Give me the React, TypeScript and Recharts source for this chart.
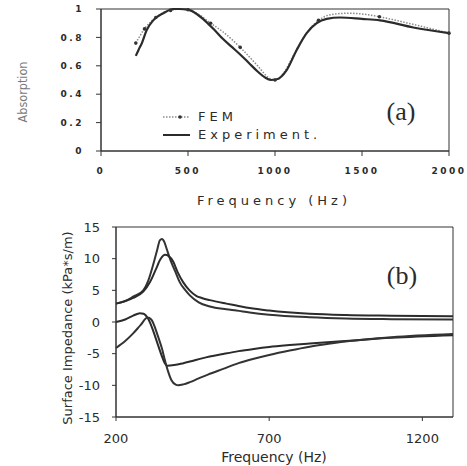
import { LineChart, Line, XAxis, YAxis, ReferenceArea } from "recharts";

// (a) absorption coefficient vs frequency
const expFreq = [200, 215, 235, 262, 300, 358, 415, 450, 500, 550, 600, 650, 700, 750, 800, 850, 900, 940, 975, 1010, 1067, 1124, 1182, 1240, 1297, 1374, 1500, 1603, 1795, 2000];
const expAbs = [0.67, 0.71, 0.76, 0.85, 0.92, 0.97, 1.0, 1.0, 0.995, 0.965, 0.915, 0.855, 0.79, 0.735, 0.68, 0.62, 0.56, 0.52, 0.5, 0.505, 0.57, 0.71, 0.83, 0.9, 0.93, 0.94, 0.93, 0.92, 0.87, 0.83];

const femFreq = [200, 250, 315, 360, 400, 450, 500, 570, 630, 700, 800, 900, 960, 1000, 1050, 1100, 1150, 1200, 1250, 1320, 1420, 1500, 1600, 1800, 2000];
const femAbs = [0.76, 0.86, 0.94, 0.975, 0.99, 1.0, 0.995, 0.955, 0.9, 0.84, 0.73, 0.6, 0.52, 0.5, 0.55, 0.66, 0.77, 0.86, 0.92, 0.96, 0.97, 0.965, 0.945, 0.89, 0.83];
const femBands = [200, 250, 315, 400, 500, 630, 800, 1000, 1250, 1600, 2000];

const absXTicks = [0, 500, 1000, 1500, 2000];
const absYTicks = [0, 0.2, 0.4, 0.6, 0.8, 1];

// (b) surface impedance, real parts (upper) and imaginary parts (lower)
const reAFreq = [200, 230, 256, 289, 305, 321, 335, 343, 350, 358, 365, 380, 395, 408, 425, 441, 470, 506, 560, 593, 636, 700, 832, 950, 1100, 1300];
const reA = [2.9, 3.3, 4.0, 5.0, 6.5, 9.0, 11.5, 12.9, 13.1, 12.6, 11.6, 9.5, 7.8, 6.3, 5.1, 4.2, 3.1, 2.45, 2.0, 1.8, 1.5, 1.15, 0.75, 0.55, 0.45, 0.4];

const reBFreq = [200, 256, 289, 311, 330, 345, 360, 372, 387, 400, 419, 440, 463, 480, 506, 560, 593, 636, 700, 832, 950, 1100, 1300];
const reB = [2.9, 3.8, 4.8, 6.3, 8.3, 9.9, 10.6, 10.4, 9.5, 8.0, 6.3, 5.0, 4.1, 3.8, 3.45, 2.9, 2.6, 2.2, 1.8, 1.3, 1.1, 1.0, 0.9];

const imCFreq = [200, 230, 256, 278, 290, 305, 320, 332, 349, 358, 367, 390, 420, 441, 484, 550, 600, 650, 700, 767, 832, 962, 1100, 1300];
const imC = [0.0, 0.4, 1.0, 1.4, 1.3, 0.5, -1.2, -2.9, -5.3, -6.4, -6.9, -6.8, -6.5, -6.25, -5.7, -5.05, -4.6, -4.25, -3.95, -3.65, -3.4, -2.95, -2.5, -2.1];

const imDFreq = [200, 230, 256, 280, 303, 315, 338, 350, 360, 370, 381, 395, 403, 420, 441, 470, 500, 550, 600, 650, 700, 767, 832, 900, 962, 1100, 1300];
const imD = [-4.1, -3.0, -1.8, -0.5, 0.7, 0.4, -2.4, -4.2, -6.1, -7.8, -9.2, -9.9, -10.0, -9.85, -9.5, -8.9, -8.3, -7.4, -6.5, -5.8, -5.2, -4.5, -3.9, -3.4, -3.0, -2.4, -1.9];

const impXTicks = [200, 700, 1200];
const impYTicks = [-15, -10, -5, 0, 5, 10, 15];

const zip = (xs: number[], ys: number[]) => xs.map((f, i) => ({ f, v: ys[i] }));

const INK = "#2b2b2b";
const oldTick = { fontFamily: "DejaVu Sans", fontSize: 9, fontWeight: 700, fill: INK, letterSpacing: 2.5 };
const newTick = { fontFamily: "DejaVu Sans", fontSize: 13, fill: INK };

function femDot(p: any) {
  if (!femBands.includes(p.payload.f)) return <g key={p.index} />;
  return <circle key={p.index} cx={p.cx} cy={p.cy} r={1.8} fill="#333" />;
}

export default function App() {
  const abs = (v: number) => (v === 0 || v === 1 ? String(v) : v.toFixed(1));
  return (
    <div style={{ position: "absolute", left: 0, top: 0, width: 467, height: 466, background: "#fff", fontFamily: "DejaVu Sans", color: INK }}>
      {/* (a) */}
      <div style={{ position: "absolute", left: 0, top: 0 }}>
        <LineChart width={467} height={215} margin={{ top: 9, right: 18, bottom: 24, left: 0 }}>
          <XAxis type="number" dataKey="f" domain={[0, 2000]} ticks={absXTicks} height={40}
            stroke="#333" tickSize={5} tickMargin={12} tick={oldTick} />
          <YAxis type="number" dataKey="v" domain={[0, 1]} ticks={absYTicks} width={101}
            stroke="#333" tickSize={5} tickMargin={12} tick={oldTick} tickFormatter={abs} />
          <ReferenceArea x1={0} x2={2000} y1={0} y2={1} fill="none" stroke="#333" strokeWidth={1} />
          <Line data={zip(femFreq, femAbs)} dataKey="v" type="monotone" stroke="#8a8a8a" strokeWidth={1.5}
            strokeDasharray="1.5 1.5" dot={femDot} isAnimationActive={false} />
          <Line data={zip(expFreq, expAbs)} dataKey="v" type="monotone" stroke={INK} strokeWidth={2.2}
            dot={false} isAnimationActive={false} />
        </LineChart>
      </div>

      <div style={{ position: "absolute", left: 22, top: 92, transform: "translate(-50%,-50%) rotate(-90deg)", fontFamily: "DejaVu Sans Condensed", fontSize: 12.5, color: "#7a7a7a", whiteSpace: "nowrap" }}>
        Absorption
      </div>
      <div style={{ position: "absolute", left: 274, top: 200, transform: "translate(-50%,-50%)", fontSize: 13, letterSpacing: 4, whiteSpace: "nowrap" }}>
        Frequency (Hz)
      </div>
      <div style={{ position: "absolute", left: 163, top: 108, fontSize: 13, letterSpacing: 4, lineHeight: "18px", whiteSpace: "nowrap" }}>
        <div style={{ display: "flex", alignItems: "center" }}>
          <svg width={35} height={18}>
            <line x1={0} y1={9} x2={27} y2={9} stroke="#8a8a8a" strokeWidth={1.5} strokeDasharray="1.5 1.5" />
            <circle cx={17} cy={9} r={1.8} fill="#333" />
          </svg>
          <span>FEM</span>
        </div>
        <div style={{ display: "flex", alignItems: "center" }}>
          <svg width={35} height={18}>
            <line x1={0} y1={9} x2={27} y2={9} stroke={INK} strokeWidth={2} />
          </svg>
          <span>Experiment.</span>
        </div>
      </div>
      <div style={{ position: "absolute", left: 401, top: 112, transform: "translate(-50%,-50%)", fontFamily: "Liberation Serif", fontSize: 26, whiteSpace: "nowrap" }}>
        (a)
      </div>

      {/* (b) */}
      <div style={{ position: "absolute", left: 0, top: 215 }}>
        <LineChart width={467} height={251} margin={{ top: 12, right: 14, bottom: 19, left: 0 }}>
          <XAxis type="number" dataKey="f" domain={[200, 1300]} ticks={impXTicks} height={30}
            stroke="#333" tickSize={4} tickMargin={13} tick={newTick} />
          <YAxis type="number" dataKey="v" domain={[-15, 15]} ticks={impYTicks} width={116}
            stroke="#333" tickSize={4} tickMargin={12} tick={newTick} />
          <ReferenceArea x1={200} x2={1300} y1={-15} y2={15} fill="none" stroke="#333" strokeWidth={1} />
          <Line data={zip(reAFreq, reA)} dataKey="v" type="monotone" stroke="#333" strokeWidth={2}
            dot={false} isAnimationActive={false} />
          <Line data={zip(reBFreq, reB)} dataKey="v" type="monotone" stroke={INK} strokeWidth={2}
            dot={false} isAnimationActive={false} />
          <Line data={zip(imCFreq, imC)} dataKey="v" type="monotone" stroke={INK} strokeWidth={2}
            dot={false} isAnimationActive={false} />
          <Line data={zip(imDFreq, imD)} dataKey="v" type="monotone" stroke="#333" strokeWidth={2}
            dot={false} isAnimationActive={false} />
        </LineChart>
      </div>

      <div style={{ position: "absolute", left: 67, top: 328, transform: "translate(-50%,-50%) rotate(-90deg)", fontSize: 13, whiteSpace: "nowrap" }}>
        Surface Impedance (kPa*s/m)
      </div>
      <div style={{ position: "absolute", left: 274, top: 457, transform: "translate(-50%,-50%)", fontSize: 14, whiteSpace: "nowrap" }}>
        Frequency (Hz)
      </div>
      <div style={{ position: "absolute", left: 402, top: 276, transform: "translate(-50%,-50%)", fontFamily: "Liberation Serif", fontSize: 26, whiteSpace: "nowrap" }}>
        (b)
      </div>
    </div>
  );
}
